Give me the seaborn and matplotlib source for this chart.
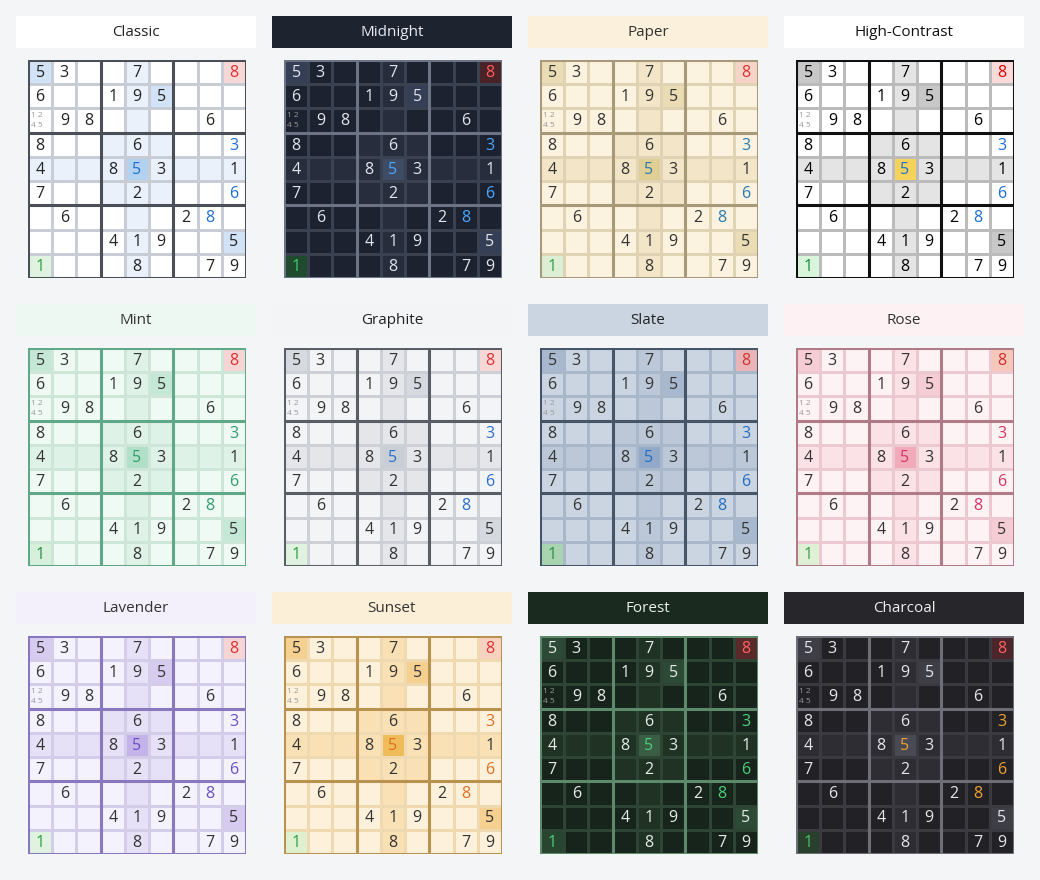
import numpy as np
import matplotlib
matplotlib.use("Agg")
import matplotlib.pyplot as plt
from matplotlib.colors import ListedColormap
import seaborn as sns

sns.set_theme(style="white")
plt.rcParams['font.family'] = ['Open Sans', 'DejaVu Sans']

# ---------------- data ----------------
theme_names = ["Classic", "Midnight", "Paper", "High-Contrast",
               "Mint", "Graphite", "Slate", "Rose",
               "Lavender", "Sunset", "Forest", "Charcoal"]

givens = [
    [5, 3, 0, 0, 7, 0, 0, 0, 8],
    [6, 0, 0, 1, 9, 5, 0, 0, 0],
    [0, 9, 8, 0, 0, 0, 0, 6, 0],
    [8, 0, 0, 0, 6, 0, 0, 0, 3],
    [4, 0, 0, 8, 5, 3, 0, 0, 1],
    [7, 0, 0, 0, 2, 0, 0, 0, 6],
    [0, 6, 0, 0, 0, 0, 2, 8, 0],
    [0, 0, 0, 4, 1, 9, 0, 0, 5],
    [1, 0, 0, 0, 8, 0, 0, 7, 9],
]
user_cells = [(3, 8), (5, 8), (6, 7), (4, 4)]
selected_cell = (4, 4)
error_cell = (0, 8)
correct_cell = (8, 0)
notes_cell = (2, 0)
notes_text = ["1 2", "4 5"]

# keys: title_bg, title_fg, cell, hl, same, sel, err_bg, err_fg, ok_bg, ok_fg, given, user, thin, thick
themes = {
    "Classic": ["#ffffff", "#222222", "#ffffff", "#eaf1fb", "#d3e3f7", "#b3d1f0", "#f8d7d7", "#e03131", "#dff3e0", "#2f9e44", "#222222", "#1c6fd1", "#c8ccd4", "#4a4f58"],
    "Midnight": ["#1e2330", "#e8eaf0", "#1d2230", "#272d3c", "#343e55", "#3e4c66", "#4a2329", "#ff5c5c", "#1f4a2d", "#3fcf6e", "#e2e5ec", "#4aa8ff", "#3a4150", "#6b7385"],
    "Paper": ["#faf0dc", "#333333", "#fbf2e0", "#f3e6c8", "#eadcb4", "#e0cf95", "#f7d4c8", "#e03131", "#dcefd5", "#2f9e44", "#333333", "#2a7ab0", "#e0d3b4", "#a89a78"],
    "High-Contrast": ["#ffffff", "#111111", "#ffffff", "#e4e4e4", "#c8c8c8", "#f5d25a", "#fbdada", "#e00000", "#d9f5dc", "#1a8a3a", "#000000", "#1a6ed8", "#bbbbbb", "#111111"],
    "Mint": ["#eef8f2", "#333333", "#f0faf5", "#dff2e8", "#c5e8d6", "#b2dfc8", "#f7d5d5", "#e03131", "#d6f0dc", "#2b8a3e", "#333333", "#2f9e6a", "#cde6d8", "#5fa888"],
    "Graphite": ["#f3f4f6", "#222222", "#f3f4f6", "#e4e6ea", "#d6d9df", "#c9ced6", "#f8d7d7", "#e03131", "#dff3e0", "#2f9e44", "#333333", "#2a6fd0", "#cdd0d6", "#5a5e66"],
    "Slate": ["#cbd5e1", "#222222", "#cbd5e1", "#bcc8d8", "#a8b8ce", "#93a9c9", "#e8b4b8", "#d03030", "#a8d5b0", "#2f8e44", "#333333", "#1f6fc4", "#a9b7ca", "#475569"],
    "Rose": ["#fdf1f3", "#333333", "#fdf3f4", "#fbe2e6", "#f6cdd4", "#f0aab8", "#f6c8bc", "#d0302a", "#e0f0d6", "#3b9a45", "#333333", "#d6336c", "#ecc9d0", "#b07a86"],
    "Lavender": ["#f3f0fb", "#333333", "#f4f2fc", "#e6e1f6", "#d7ccef", "#c4b3e8", "#f7d5d5", "#e03131", "#dff3e0", "#2f9e44", "#333333", "#6a4fc4", "#d4cdea", "#8a78bf"],
    "Sunset": ["#fcefd8", "#333333", "#fdf1dc", "#fae1b5", "#f6d090", "#f0bc5a", "#f8d2c0", "#e03131", "#dff0d0", "#2f9e44", "#333333", "#e07020", "#efd9b0", "#b8924e"],
    "Forest": ["#1a2a1f", "#e8f0ea", "#17241b", "#1f3224", "#2c4a35", "#3a5e44", "#5a2a2a", "#ff6060", "#27452f", "#4ad07a", "#e6ece8", "#4ad07a", "#2e4434", "#5d8a6a"],
    "Charcoal": ["#26262b", "#eeeeee", "#222226", "#2d2d33", "#3e3e46", "#4a4a54", "#4a262a", "#ff6060", "#28402c", "#4ac06a", "#e6e6ea", "#f0a030", "#3a3a40", "#6e6e78"],
}

# ---------------- figure ----------------
W, H = 1040, 880
fig = plt.figure(figsize=(W / 100, H / 100), dpi=100)
fig.patch.set_facecolor("#f4f5f7")

def px_axes(x, y, w, h):
    return fig.add_axes([x / W, 1 - (y + h) / H, w / W, h / H])

# category map
sr, sc = selected_cell
sel_val = givens[sr][sc]
cat = np.zeros((9, 9))
for r in range(9):
    for c in range(9):
        if r == sr or c == sc or (r // 3 == sr // 3 and c // 3 == sc // 3):
            cat[r, c] = 1
        if givens[r][c] == sel_val:
            cat[r, c] = 2
cat[sr, sc] = 3
cat[error_cell] = 4
cat[correct_cell] = 5

for k, name in enumerate(theme_names):
    t = themes[name]
    col, row = k % 4, k // 4
    x0 = 16 + col * 256
    y0 = 16 + row * 288
    # title bar
    ta = px_axes(x0, y0, 240, 32)
    ta.set_facecolor(t[0])
    ta.set_xticks([]); ta.set_yticks([])
    for s in ta.spines.values():
        s.set_visible(False)
    ta.text(0.5, 0.5, name, ha="center", va="center", color=t[1], fontsize=11, transform=ta.transAxes)

    # grid
    ga = px_axes(x0 + 12, y0 + 44, 218, 218)
    cmap = ListedColormap([t[2], t[3], t[4], t[5], t[6], t[8]])
    sns.heatmap(cat, ax=ga, cmap=cmap, vmin=-0.5, vmax=5.5, cbar=False,
                linewidths=0.8, linecolor=t[12], square=False,
                xticklabels=False, yticklabels=False)
    for i in (0, 3, 6, 9):
        ga.axhline(i, color=t[13], lw=2.2)
        ga.axvline(i, color=t[13], lw=2.2)
    for r in range(9):
        for c in range(9):
            v = givens[r][c]
            if v == 0:
                continue
            color = t[10]
            if (r, c) in user_cells:
                color = t[11]
            if (r, c) == error_cell:
                color = t[7]
            if (r, c) == correct_cell:
                color = t[9]
            ga.text(c + 0.5, r + 0.53, str(v), ha="center", va="center", color=color, fontsize=11.5)
    nr, nc = notes_cell
    for li, txt in enumerate(notes_text):
        ga.text(nc + 0.12, nr + 0.3 + li * 0.42, txt, ha="left", va="center", color="#999999", fontsize=6)

fig.savefig("out.png", dpi=100, facecolor=fig.get_facecolor())
